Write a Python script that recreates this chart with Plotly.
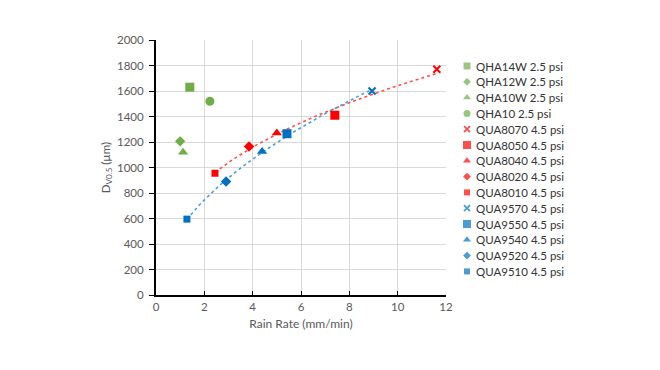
import numpy as np
import plotly.graph_objects as go

# Data
names = ["QHA14W 2.5 psi", "QHA12W 2.5 psi", "QHA10W 2.5 psi", "QHA10 2.5 psi",
         "QUA8070 4.5 psi", "QUA8050 4.5 psi", "QUA8040 4.5 psi", "QUA8020 4.5 psi", "QUA8010 4.5 psi",
         "QUA9570 4.5 psi", "QUA9550 4.5 psi", "QUA9540 4.5 psi", "QUA9520 4.5 psi", "QUA9510 4.5 psi"]
rain_rate = [1.40, 1.00, 1.12, 2.23,
             11.62, 7.40, 5.00, 3.85, 2.44,
             8.94, 5.42, 4.39, 2.90, 1.28]
dv05 = [1630, 1205, 1120, 1520,
        1770, 1410, 1270, 1165, 955,
        1600, 1265, 1125, 890, 595]

x_ticks = [0, 2, 4, 6, 8, 10, 12]
y_ticks = [0, 200, 400, 600, 800, 1000, 1200, 1400, 1600, 1800, 2000]

GREEN, RED, BLUE = "#70AD47", "#FF0000", "#0070C0"
colors = [GREEN] * 4 + [RED] * 5 + [BLUE] * 5
symbols = ["square", "diamond", "triangle-up", "circle",
           "x-thin-open", "square", "triangle-up", "diamond", "square",
           "x-thin-open", "square", "triangle-up", "diamond", "square"]
sizes = [9, 8, 9, 9, 7, 9, 9, 8, 7, 7, 9, 9, 8, 7]
legend_sizes = [7, 6, 7, 7, 6, 8, 7, 6, 6, 6, 8, 7, 6, 6]

W, H = 660, 370
L, R, T, B = 156, 20, 40, 75
plot_w = W - L - R
main_right = 446  # pixel right edge of the chart area

fig = go.Figure()

# Power trendlines (fitted from the data)
def power_fit(idx, color):
    xs = np.array([rain_rate[i] for i in idx])
    ys = np.array([dv05[i] for i in idx])
    b, loga = np.polyfit(np.log(xs), np.log(ys), 1)
    xc = np.linspace(xs.min(), xs.max(), 80)
    yc = np.exp(loga) * xc ** b
    fig.add_trace(go.Scatter(x=xc, y=yc, mode="lines", showlegend=False, hoverinfo="skip",
                             line=dict(color=color, width=1.6, dash="dot")))

power_fit([4, 5, 6, 7, 8], "#FF5050")
power_fit([9, 10, 11, 12, 13], "#4A9FE0")

for i in range(len(names)):
    sym = symbols[i]
    line = dict(color=colors[i], width=2) if "x" in sym else dict(width=0)
    fig.add_trace(go.Scatter(x=[rain_rate[i]], y=[dv05[i]], mode="markers", name=names[i],
                             showlegend=False,
                             marker=dict(color=colors[i], symbol=sym, size=sizes[i], line=line)))

# Manual legend on a separate full-width axis measured in pixels
row0, row_gap = 66, 15.8
leg_y = [row0 + row_gap * i for i in range(len(names))]
leg_line_w = [1.8 if "x" in s else 0 for s in symbols]
fig.add_trace(go.Scatter(
    x=[467] * len(names), y=leg_y, xaxis="x2", yaxis="y2", mode="markers",
    showlegend=False, hoverinfo="skip",
    marker=dict(color=colors, symbol=symbols, size=legend_sizes,
                line=dict(color=colors, width=leg_line_w))))
for i, n in enumerate(names):
    fig.add_annotation(x=474, y=leg_y[i], xref="x2", yref="y2", text=n, showarrow=False,
                       xanchor="left", yanchor="middle",
                       font=dict(size=11.5, color="#333333"))

fig.update_layout(
    width=W, height=H,
    margin=dict(l=L, r=R, t=T, b=B, autoexpand=False),
    paper_bgcolor="white", plot_bgcolor="rgba(0,0,0,0)",
    font=dict(family="Lato, Open Sans, sans-serif", size=11, color="#595959"),
    showlegend=False,
    xaxis=dict(domain=[0, (main_right - L) / plot_w], range=[0, 12], tickvals=x_ticks,
               showgrid=True, gridcolor="#D9D9D9",
               showline=True, linecolor="black", linewidth=2, ticks="inside", ticklen=4,
               tickcolor="black", zeroline=False, tickfont=dict(size=11.5),
               title=dict(text="Rain Rate (mm/min)", font=dict(size=12, color="#595959"), standoff=8)),
    yaxis=dict(range=[0, 2000], tickvals=y_ticks, showgrid=True, gridcolor="#D9D9D9",
               showline=True, linecolor="black", linewidth=2, ticks="outside", ticklen=5,
               tickcolor="black", zeroline=False, tickfont=dict(size=11.5),
               ticklabelstandoff=3,
               title=dict(text="D<sub>V0.5</sub> (µm)", font=dict(size=11.5, color="#595959"), standoff=4)),
    xaxis2=dict(domain=[0, 1], range=[L, W - R], anchor="y2", visible=False,
                fixedrange=True),
    yaxis2=dict(domain=[0, 1], range=[H - B, T], anchor="x2", visible=False,
                fixedrange=True),
)

fig.write_html("out.html", config={"displayModeBar": False},
               post_script="document.body.style.margin='0';")
